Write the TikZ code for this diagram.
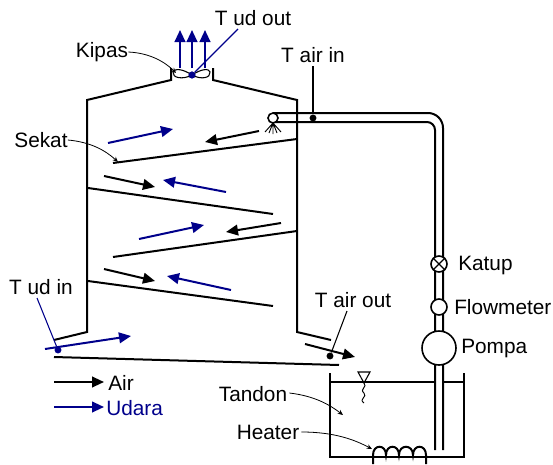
\documentclass[tikz,border=0pt]{standalone}
\usepackage{fontspec}
\setmainfont{Liberation Sans}
\usetikzlibrary{arrows.meta}
\definecolor{udara}{RGB}{0,0,139}
\tikzset{
  wall/.style={line width=1.5pt,black},
  thin line/.style={line width=0.8pt,black},
  lbl/.style={font=\fontsize{15.6pt}{18pt}\selectfont,inner sep=0pt,text=black},
  airflow/.style={line width=1.5pt,black,-{Triangle[length=9pt,width=8pt]}},
  udflow/.style={line width=1.5pt,udara,-{Triangle[length=9pt,width=8pt]}},
  leader/.style={line width=0.6pt,black,-{Stealth[length=4pt,width=3.5pt]}},
  probe/.style={circle,fill=black,inner sep=0pt,minimum size=5.2pt},
  probeud/.style={circle,fill=udara,inner sep=0pt,minimum size=5.2pt},
  device/.style={circle,draw=black,line width=1.2pt,fill=white,inner sep=0pt},
}
\begin{document}
\begin{tikzpicture}[x=0.75pt,y=-0.75pt]
\useasboundingbox (0,0) rectangle (553,464);
% tower
\draw[wall] (171,68) -- (171,80) -- (87,100) -- (87,332) -- (54,340);
\draw[wall] (213,68) -- (213,80) -- (297,100) -- (297,332) -- (331,340);
\draw[wall] (54,357) -- (339,365);
% baffles
\draw[wall] (113,163) -- (297,139);
\draw[wall] (88,188) -- (273,214);
\draw[wall] (113,257) -- (297,231);
\draw[wall] (88,281) -- (273,306);
% pipe
\draw[wall] (273,113) -- (428,113) to[out=0,in=90] (443,128) -- (443,450);
\draw[wall] (273,122) -- (427,122) to[out=0,in=90] (435,130) -- (435,450);
% nozzle
\node[device,minimum size=7.5pt] (noz) at (273,118) {};
\draw[line width=0.7pt] (273,123) -- (265,132) (273,123) -- (269,133) (273,123) -- (273,134) (273,123) -- (277,133) (273,123) -- (281,132);
% flows
\draw[udflow] (108,143) -- (173,129);
\draw[airflow] (259,131) -- (205,142);
\draw[airflow] (104,176) -- (155,187);
\draw[udflow] (226,192) -- (163,180);
\draw[udflow] (139,239) -- (204,225);
\draw[airflow] (281,223) -- (226,232);
\draw[airflow] (104,269) -- (155,281);
\draw[udflow] (231,290) -- (167,276);
\draw[udflow] (45,349) -- (131,336);
\draw[airflow] (305,344) -- (355,357);
% fan
\node[probeud] (fan) at (192,75) {};
\draw[line width=0.8pt] (fan.center) .. controls (183,69) and (175,68) .. (173,72) .. controls (172,78) and (183,80) .. (fan.center);
\draw[line width=0.8pt] (fan.center) .. controls (201,69) and (209,68) .. (210,72) .. controls (211,78) and (201,80) .. (fan.center);
\node[probeud] at (fan) {};
\coordinate (u1) at (180,68); \coordinate (u1t) at (180,30);
\coordinate (u2) at (192,68); \coordinate (u2t) at (192,30);
\coordinate (u3) at (205,68); \coordinate (u3t) at (205,30);
\draw[udflow] (u1) -- (u1t);
\draw[udflow] (u2) -- (u2t);
\draw[udflow] (u3) -- (u3t);
% labels
\node[lbl] (tudout) at (253,18) {T ud out};
\node[lbl] (kipas) at (102,52) {Kipas};
\node[lbl] (tairin) at (313,55) {T air in};
\node[lbl] (sekat) at (41,140) {Sekat};
\node[lbl] (tudin) at (41,287) {T ud in};
\node[lbl] (tairout) at (353,300) {T air out};
\node[lbl,anchor=west] (katup) at (458,265) {Katup};
\node[lbl,anchor=west] (flow) at (454,307) {Flowmeter};
\node[lbl,anchor=west] (pompa) at (461,348) {Pompa};
\node[lbl] (tandon) at (253,394) {Tandon};
\node[lbl] (heater) at (268,432) {Heater};
\node[lbl,anchor=west] (air) at (108,383) {Air};
\node[lbl,anchor=west,text=udara] (ud) at (106,408) {Udara};
% sensors
\coordinate (tuo) at (238,29);
\draw[line width=0.8pt,udara] (tuo) -- (fan);
\node[probe] (dairin) at (313,118) {};
\draw[thin line] (dairin) -- (313,66);
\node[probe] (dairout) at (330,356) {};
\draw[thin line] (dairout) -- (347,311);
\node[probeud] (dudin) at (58,350) {};
\draw[line width=0.8pt,udara] (dudin) -- (37,298);
% leaders
\draw[leader] (kipas.east) .. controls (150,53) and (165,62) .. (176,73);
\draw[leader] (sekat.east) .. controls (90,142) and (105,150) .. (118,162);
\draw[leader] (tandon.east) ++(2,-1) .. controls (315,396) and (330,405) .. (343,415);
\draw[leader] (heater.east) ++(2,0) .. controls (335,432) and (355,440) .. (372,449);
% devices
\node[device,minimum size=12pt] (kat) at (439,264) {};
\draw[line width=1pt] (kat.45) -- (kat.225) (kat.135) -- (kat.315);
\node[device,minimum size=12pt] (fm) at (439,307) {};
\node[device,minimum size=25.5pt] (pmp) at (439,348) {};
% tank
\draw[wall] (330,373) -- (330,457) -- (464,457) -- (464,373);
\draw[thin line] (330,382) -- (435,382) (443,382) -- (464,382);
\draw[line width=0.8pt] (358,372) -- (370,372) -- (364,383) -- cycle;
\draw[line width=0.7pt] (364,383) .. controls (368,387) and (359,389) .. (364,393) .. controls (368,397) and (358,399) .. (364,403);
% heater coil
\draw[wall] (373,464) -- (373,455) .. controls (373,444) and (386,444) .. (386,455) .. controls (386,444) and (399,444) .. (399,455) .. controls (399,444) and (413,444) .. (413,455) .. controls (413,444) and (426,444) .. (426,455) -- (426,464);
% legend
\coordinate (la) at (54,382); \coordinate (lb) at (54,407);
\draw[airflow] (la) -- (104,382);
\draw[udflow] (lb) -- (104,407);
\end{tikzpicture}
\end{document}
